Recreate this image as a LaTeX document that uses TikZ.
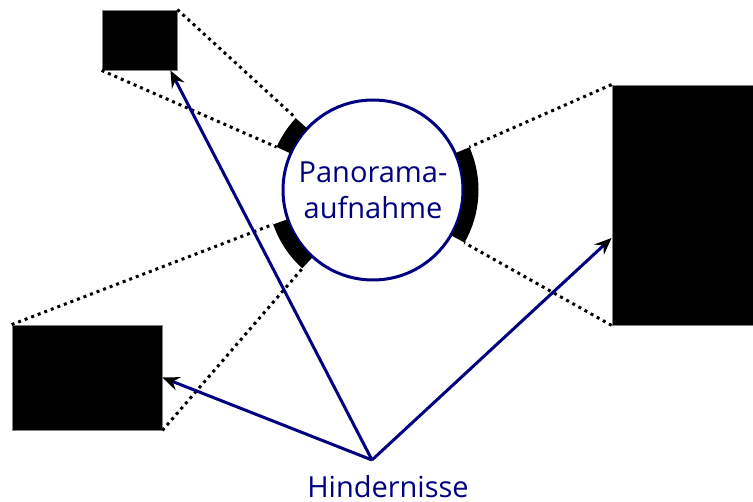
\documentclass[tikz,border=0pt]{standalone}
\usepackage{fontspec}
\setmainfont{Open Sans}
\usetikzlibrary{arrows.meta}
\definecolor{ink}{RGB}{0,0,128}
\tikzset{
  obstacle/.style={draw=gray, line width=0.8pt, fill=black, inner sep=0pt},
  sight/.style={line width=3pt, dash pattern=on 3pt off 4pt},
  hidden/.style={line width=15pt},
  pointer/.style={draw=ink, line width=3pt, -{Stealth[black,length=17pt,width=14pt,inset=6pt]}},
  caption/.style={text=ink, font=\fontsize{29}{36}\selectfont},
}
\begin{document}
\begin{tikzpicture}[x=1pt,y=-1pt]
\useasboundingbox (0,0) rectangle (753,502);

% obstacles
\node[obstacle, minimum width=75pt, minimum height=60pt] (tl) at (139.5,40) {};
\node[obstacle, minimum width=150pt, minimum height=105pt] (bl) at (87,377.5) {};
\node[obstacle, minimum width=145pt, minimum height=240pt] (rt) at (684.5,205) {};

% the panorama
\node[caption, draw=ink, line width=3pt, fill=white, circle, minimum size=180pt,
      inner sep=0pt, align=center] (pan) at (373,190) {Panorama-\\aufnahme};

% hidden parts of the panorama
\draw[hidden] ([shift={(-137:98)}]pan.center) arc[start angle=-137, end angle=-156, radius=98];
\draw[hidden] ([shift={(-24:98)}]pan.center) arc[start angle=-24, end angle=30, radius=98];
\draw[hidden] ([shift={(161:98)}]pan.center) arc[start angle=161, end angle=132, radius=98];

\coordinate (a1) at ([shift={(-137:105.5)}]pan.center);
\coordinate (a2) at ([shift={(-156:105.5)}]pan.center);
\coordinate (b1) at ([shift={(-24:105.5)}]pan.center);
\coordinate (b2) at ([shift={(30:105.5)}]pan.center);
\coordinate (c1) at ([shift={(161:105.5)}]pan.center);
\coordinate (c2) at ([shift={(132:105.5)}]pan.center);

\path[draw,sight] (tl.north east) -- (a1);
\path[draw,sight] (tl.south west) -- (a2);
\path[draw,sight] (rt.north west) -- (b1);
\path[draw,sight] (rt.south west) -- (b2);
\path[draw,sight] (bl.north west) -- (c1);
\path[draw,sight] (bl.south east) -- (c2);

% labels
\node[caption, anchor=base] (hind) at (388,498) {Hindernisse};
\coordinate (src) at (372,460);

\path[pointer] (src) -- ([xshift=-7pt]tl.south east);
\path[pointer] (src) -- (bl.east);
\path[pointer] (src) -- ([yshift=-33pt]rt.west);
\end{tikzpicture}
\end{document}
